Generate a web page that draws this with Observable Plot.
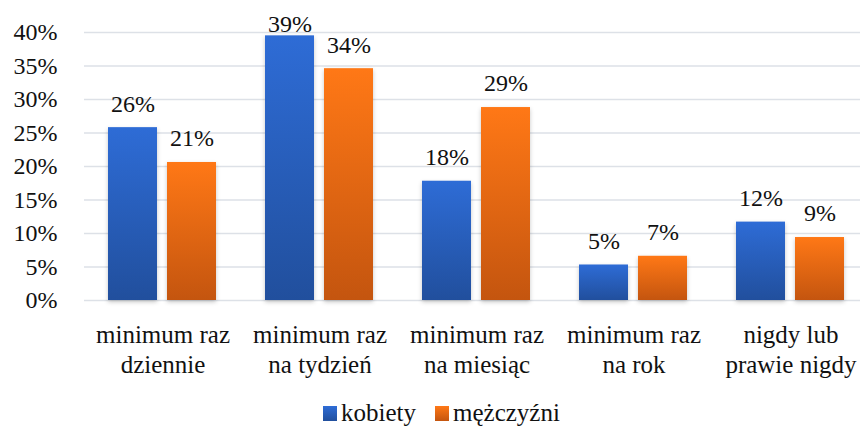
<!DOCTYPE html>
<html>
<head>
<meta charset="utf-8">
<script src="https://cdn.jsdelivr.net/npm/d3@7"></script>
<script src="https://cdn.jsdelivr.net/npm/@observablehq/plot@0.6"></script>
</head>
<body style="margin:0;padding:0;background:#fff;width:860px;height:430px;overflow:hidden;font-family:'Times New Roman',serif">
<div id="chart"></div>
<div id="legend" style="height:40px;display:flex;align-items:center;padding-left:323px;box-sizing:border-box;padding-top:6px;font-family:'Times New Roman',serif;font-size:25px;color:#111"></div>
<script>
const categories = ["minimum raz\ndziennie", "minimum raz\nna tydzień", "minimum raz\nna miesiąc", "minimum raz\nna rok", "nigdy lub\nprawie nigdy"];
const series = ["kobiety", "mężczyźni"];
const kobiety = [25.8, 39.5, 17.8, 5.3, 11.7];
const mezczyzni = [20.6, 34.6, 28.8, 6.6, 9.4];
const kobietyLabels = ["26%", "39%", "18%", "5%", "12%"];
const mezczyzniLabels = ["21%", "34%", "29%", "7%", "9%"];
const yTicks = [0, 5, 10, 15, 20, 25, 30, 35, 40];

const colors = {
  "kobiety": ["#2e6cd6", "#214f9d"],
  "mężczyźni": ["#ff7816", "#c4550f"]
};
const gradIds = {"kobiety": "gradK", "mężczyźni": "gradM"};

const rows = [];
categories.forEach((c, i) => {
  rows.push({cat: c, series: series[0], value: kobiety[i], label: kobietyLabels[i]});
  rows.push({cat: c, series: series[1], value: mezczyzni[i], label: mezczyzniLabels[i]});
});

const font = "'Times New Roman', serif";

const chart = Plot.plot({
  width: 860,
  height: 390,
  marginLeft: 82,
  marginRight: -11,
  marginTop: 32,
  marginBottom: 90,
  style: {fontFamily: font, fontSize: "24px", color: "#111", background: "#fff"},
  fx: {domain: categories, padding: 0, label: null, axis: null},
  x: {domain: series, paddingInner: 1/6, paddingOuter: 0.398, axis: null},
  y: {domain: [0, 40], label: null, axis: null},
  color: {domain: series, range: series.map(s => `url(#${gradIds[s]})`)},
  marks: [
    Plot.ruleY(yTicks, {stroke: "#dde1e7", strokeWidth: 1.6}),
    Plot.axisY({ticks: yTicks, tickFormat: d => d + "%", tickSize: 0, tickPadding: 27, label: null, fontSize: 24, fill: "#111"}),
    Plot.axisFx({anchor: "bottom", tickSize: 0, tickPadding: 21, label: null, fontSize: 25, lineHeight: 1.2, fill: "#111"}),
    Plot.barY(rows, {fx: "cat", x: "series", y: "value", fill: "series"}),
    Plot.text(rows, {fx: "cat", x: "series", y: d => Math.min(d.value + 2.4, 40.05), text: "label", lineAnchor: "bottom", fontSize: 24, fill: "#111"})
  ]
});

chart.setAttribute("font-family", font);

// gradients
const ns = "http://www.w3.org/2000/svg";
const defs = document.createElementNS(ns, "defs");
series.forEach(s => {
  const g = document.createElementNS(ns, "linearGradient");
  g.setAttribute("id", gradIds[s]);
  g.setAttribute("x1", "0"); g.setAttribute("y1", "0"); g.setAttribute("x2", "0"); g.setAttribute("y2", "1");
  [[0, colors[s][0]], [1, colors[s][1]]].forEach(([o, c]) => {
    const st = document.createElementNS(ns, "stop");
    st.setAttribute("offset", o); st.setAttribute("stop-color", c);
    g.appendChild(st);
  });
  defs.appendChild(g);
});
chart.insertBefore(defs, chart.firstChild);
chart.querySelectorAll('g[aria-label="bar"] rect').forEach(r => r.style.filter = "drop-shadow(0 2px 2px rgba(0,0,0,0.22))");

document.getElementById("chart").appendChild(chart);

// legend
const legend = document.getElementById("legend");
series.forEach(s => {
  const item = document.createElement("span");
  item.style.cssText = "display:flex;align-items:center;margin-right:19px";
  const sw = document.createElement("span");
  sw.style.cssText = "width:14px;height:15px;display:inline-block;margin-right:4px";
  sw.style.background = `linear-gradient(${colors[s][0]}, ${colors[s][1]})`;
  item.appendChild(sw);
  item.appendChild(document.createTextNode(s));
  legend.appendChild(item);
});

// re-apply the serif family once fonts are settled
function applySerif() {
  const fam = "'Liberation Serif', 'Times New Roman', Times, serif";
  document.body.style.fontFamily = fam;
  legend.style.fontFamily = fam;
  chart.style.fontFamily = fam;
  chart.setAttribute("font-family", fam);
  chart.querySelectorAll("text, tspan").forEach(t => { t.style.fontFamily = fam; });
  void document.body.offsetHeight;
}
if (document.fonts && document.fonts.ready) {
  document.fonts.ready.then(() => setTimeout(applySerif, 30));
} else {
  setTimeout(applySerif, 30);
}
</script>
</body>
</html>
